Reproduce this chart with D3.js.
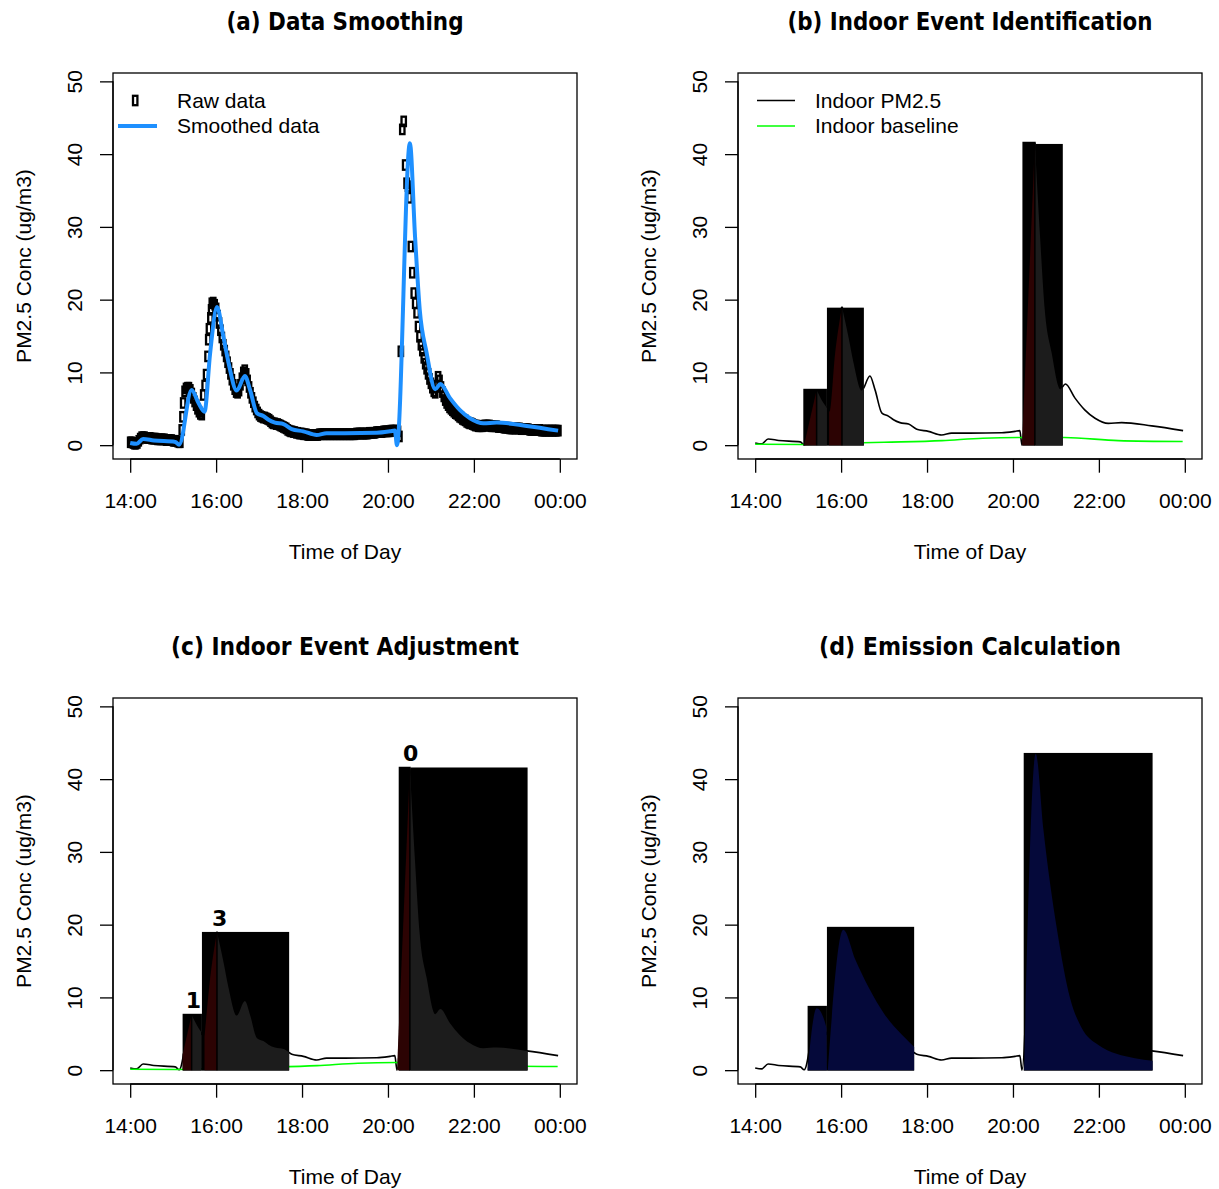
<!DOCTYPE html>
<html>
<head>
<meta charset="utf-8">
<script src="https://cdn.jsdelivr.net/npm/d3@7"></script>
<style>
  body { margin: 0; background: #fff; }
  svg text { font-family: "Liberation Sans", Arial, sans-serif; }
</style>
</head>
<body>
<div id="chart"></div>
<script>
// smoothed indoor PM2.5 (hour of day, ug/m3)
const smoothT = [14.00, 14.15, 14.30, 14.55, 15.05, 15.14, 15.43, 15.59, 15.73, 15.86, 16.02, 16.17, 16.29,
  16.48, 16.67, 16.79, 16.95, 17.10, 17.22, 17.37, 17.57, 17.76, 18.03, 18.34, 18.57, 19.00, 19.74, 20.05,
  20.16, 20.21, 20.51, 20.63, 20.74, 20.90, 21.10, 21.22, 21.44, 21.67, 21.91, 22.22, 22.53, 23.23, 23.96];
const smoothV = [0.30, 0.18, 0.85, 0.65, 0.45, 0.05, 7.6, 5.8, 4.6, 12.6, 19.0, 14.9, 11.3,
  7.5, 9.5, 7.6, 4.4, 4.0, 3.5, 3.1, 2.9, 2.2, 1.9, 1.4, 1.65, 1.65, 1.7, 1.9,
  2.0, 0.0, 41.5, 28.7, 18.6, 12.7, 7.7, 8.4, 6.5, 4.85, 3.7, 3.0, 3.1, 2.65, 2.0];

// raw readings every 2 minutes from 14:00 (ug/m3)
const rawStep = 2;
const rawV = [
  0.4, 0.4, 0.3, 0.2, 0.2, 0.3, 0.6, 0.9, 1.1, 1.1, 1.1, 1.0, 1.0, 1.0, 1.0,
  0.9, 0.9, 0.9, 0.9, 0.8, 0.8, 0.8, 0.8, 0.8, 0.8, 0.7, 0.7, 0.7, 0.7, 0.7,
  0.6, 0.6, 0.6, 0.5, 0.4, 0.4, 2.1, 5.8, 7.4, 7.8, 7.9, 7.9, 7.6, 7.1, 6.5,
  6.0, 5.5, 5.0, 4.6, 4.3, 4.2, 6.9, 8.2, 9.7, 12.2, 16.0, 17.5, 19.5, 19.6, 19.3,
  18.8, 17.8, 16.8, 15.8, 14.8, 13.8, 13.0, 12.2, 11.4, 10.6, 9.8, 9.0, 8.3, 7.7, 7.3,
  7.2, 7.5, 8.3, 9.2, 10.0, 10.3, 9.8, 8.9, 8.0, 7.2, 6.5, 5.9, 5.3, 4.9, 4.5,
  4.2, 4.0, 3.9, 3.8, 3.8, 3.7, 3.6, 3.5, 3.3, 3.1, 3.0, 3.0, 2.9, 2.9, 2.8,
  2.7, 2.6, 2.5, 2.4, 2.3, 2.1, 2.0, 1.9, 1.9, 1.8, 1.8, 1.7, 1.7, 1.6, 1.6,
  1.6, 1.5, 1.5, 1.5, 1.4, 1.4, 1.4, 1.4, 1.4, 1.4, 1.4, 1.4, 1.5, 1.5, 1.5,
  1.5, 1.5, 1.5, 1.5, 1.5, 1.5, 1.5, 1.5, 1.5, 1.5, 1.5, 1.5, 1.5, 1.5, 1.5,
  1.5, 1.5, 1.5, 1.5, 1.5, 1.5, 1.5, 1.5, 1.6, 1.6, 1.6, 1.6, 1.6, 1.6, 1.6,
  1.6, 1.6, 1.7, 1.7, 1.7, 1.7, 1.7, 1.8, 1.8, 1.8, 1.8, 1.8, 1.9, 1.9, 1.9,
  1.9, 1.9, 2.0, 2.0, 2.0, 2.0, 2.0, 1.9, 1.2, 12.9, 43.4, 44.5, 38.5, 36.0, 35.6,
  34.0, 27.3, 23.7, 20.9, 19.5, 18.2, 16.3, 14.9, 13.8, 13.0, 12.0, 11.2, 10.5, 9.8, 9.1,
  8.5, 7.9, 7.4, 7.2, 8.2, 9.4, 8.9, 8.0, 7.3, 6.7, 6.2, 5.8, 5.5, 5.2, 5.0,
  4.8, 4.6, 4.4, 4.3, 4.1, 3.9, 3.8, 3.6, 3.5, 3.4, 3.2, 3.1, 3.0, 3.0, 2.9,
  2.8, 2.7, 2.7, 2.6, 2.6, 2.6, 2.6, 2.7, 2.7, 2.7, 2.7, 2.7, 2.6, 2.6, 2.6,
  2.6, 2.6, 2.5, 2.5, 2.5, 2.5, 2.4, 2.4, 2.4, 2.4, 2.3, 2.3, 2.3, 2.3, 2.3,
  2.3, 2.3, 2.3, 2.2, 2.2, 2.2, 2.2, 2.2, 2.2, 2.1, 2.1, 2.1, 2.1, 2.1, 2.1,
  2.1, 2.1, 2.0, 2.0, 2.0, 2.0, 2.0, 2.0, 2.0, 2.0, 2.0, 2.0, 2.0, 2.0, 2.0];
// a few extra readings on the steep rises (minutes after 14:00)
const rawExtraMin = [73, 109, 113];
const rawExtraV = [3.9, 14.5, 18.6];

// indoor baseline
const baseT = [14.00, 15.10, 16.00, 17.00, 18.35, 19.30, 20.20, 21.20, 22.45, 23.95];
const baseV = [0.13, 0.10, 0.25, 0.40, 0.63, 0.96, 1.05, 1.05, 0.63, 0.50];

// panel (b) identified events
const boxStartB = [15.12, 15.67, 20.22, 20.53];
const boxEndB = [15.67, 16.53, 20.53, 21.16];
const boxTopB = [7.75, 18.9, 41.7, 41.4];
const evStartB = [15.14, 15.72, 20.21];
const evPeakB = [15.43, 16.02, 20.51];
const evEndB = [15.67, 16.53, 21.16];

// panel (c) adjusted events
const boxStartC = [15.22, 15.67, 20.25, 20.53];
const boxEndC = [15.67, 17.70, 20.53, 23.25];
const boxTopC = [7.75, 19.0, 41.7, 41.6];
const evStartC = [15.22, 15.73, 20.22];
const evPeakC = [15.43, 16.02, 20.51];
const evEndC = [15.65, 17.70, 23.25];
const labelTextC = ["1", "3", "0"];
const labelTimeC = [15.47, 16.08, 20.53];
const labelValC = [7.75, 19.0, 41.7];

// panel (d) emission curves
const boxStartD = [15.22, 15.67, 20.25];
const boxEndD = [15.67, 17.70, 23.25];
const boxTopD = [8.84, 19.7, 43.6];
const emitT = [
  [15.22, 15.43, 15.66, 15.67],
  [15.69, 16.05, 16.33, 16.63, 17.02, 17.41, 17.70],
  [20.26, 20.53, 20.71, 21.02, 21.33, 21.60, 21.98, 22.84, 23.25]];
const emitV = [
  [0, 8.5, 5.8, 0],
  [0, 19.3, 15.2, 11.5, 7.6, 4.9, 3.2],
  [0, 43.5, 33.0, 19.5, 9.9, 5.8, 3.5, 1.65, 1.3]];

const xTicks = [14, 16, 18, 20, 22, 24];
const xTickLabels = ["14:00", "16:00", "18:00", "20:00", "22:00", "00:00"];
const yTicks = [0, 10, 20, 30, 40, 50];
const titles = ["(a) Data Smoothing", "(b) Indoor Event Identification", "(c) Indoor Event Adjustment", "(d) Emission Calculation"];
const titleWidths = [237, 365, 348, 302];

const panelOrigin = [[0, 0], [625, 0], [0, 625], [625, 625]];
const plotLeft = 113, plotRight = 577, plotTop = 73, plotBottom = 459;

const redFill = "#2c0303";
const grayFill = "#1c1c1c";
const navyFill = "#05093a";

const x = d3.scaleLinear().domain([13.6, 24.4]).range([plotLeft, plotRight]);
const y = d3.scaleLinear().domain([-1.9, 51.15]).range([plotBottom, plotTop]);

const smooth = smoothT.map((t, i) => ({ t: t, v: smoothV[i] }));
const base = baseT.map((t, i) => ({ t: t, v: baseV[i] }));
const raw = rawV.map((v, i) => ({ t: 14 + i * rawStep / 60, v: v }))
  .concat(rawExtraMin.map((m, i) => ({ t: 14 + m / 60, v: rawExtraV[i] })));

const line = d3.line().x(d => x(d.t)).y(d => y(d.v)).curve(d3.curveMonotoneX);
const area = d3.area().x(d => x(d.t)).y0(y(0)).y1(d => y(d.v)).curve(d3.curveMonotoneX);

const svg = d3.select("#chart").append("svg")
  .attr("width", 1219)
  .attr("height", 1189);

// value of the smoothed curve at time t (linear between readings)
function curveAt(t) {
  const i = d3.bisector(d => d.t).left(smooth, t);
  if (i <= 0) return smooth[0].v;
  if (i >= smooth.length) return smooth[smooth.length - 1].v;
  const a = smooth[i - 1], b = smooth[i];
  return a.v + (b.v - a.v) * (t - a.t) / (b.t - a.t);
}

function curveSlice(t0, t1) {
  const pts = [{ t: t0, v: curveAt(t0) }];
  smooth.forEach(d => { if (d.t > t0 + 0.005 && d.t < t1 - 0.005) pts.push(d); });
  pts.push({ t: t1, v: curveAt(t1) });
  return pts;
}

function drawFrame(g, k) {
  g.append("rect")
    .attr("x", plotLeft).attr("y", plotTop)
    .attr("width", plotRight - plotLeft).attr("height", plotBottom - plotTop)
    .attr("fill", "none").attr("stroke", "black").attr("stroke-width", 1.3);

  const xAxis = g.append("g").attr("transform", `translate(0,${plotBottom})`)
    .call(d3.axisBottom(x).tickValues(xTicks).tickSize(13.7).tickFormat((d, i) => xTickLabels[i]));
  xAxis.select(".domain").remove();
  xAxis.append("line").attr("x1", x(14)).attr("x2", x(24)).attr("stroke", "black").attr("stroke-width", 1.3);
  xAxis.selectAll(".tick line").attr("stroke-width", 1.3);
  xAxis.selectAll(".tick text")
    .attr("y", 48.5).attr("dy", 0)
    .attr("font-size", "21px").attr("fill", "black");

  const yAxis = g.append("g").attr("transform", `translate(${plotLeft},0)`)
    .call(d3.axisLeft(y).tickValues(yTicks).tickSize(13));
  yAxis.select(".domain").remove();
  yAxis.append("line").attr("y1", y(0)).attr("y2", y(50)).attr("stroke", "black").attr("stroke-width", 1.3);
  yAxis.selectAll(".tick line").attr("stroke-width", 1.3);
  yAxis.selectAll(".tick text")
    .attr("transform", "rotate(-90)")
    .attr("x", 0).attr("y", -31.5).attr("dy", 0)
    .attr("text-anchor", "middle")
    .attr("font-size", "21px").attr("fill", "black");

  g.append("text")
    .attr("x", (plotLeft + plotRight) / 2).attr("y", 30)
    .attr("text-anchor", "middle")
    .style("font-family", "'DejaVu Sans', sans-serif")
    .attr("font-weight", "bold")
    .attr("font-size", "24px")
    .attr("textLength", titleWidths[k])
    .attr("lengthAdjust", "spacingAndGlyphs")
    .text(titles[k]);

  g.append("text")
    .attr("x", (plotLeft + plotRight) / 2).attr("y", 559)
    .attr("text-anchor", "middle")
    .attr("font-size", "21px")
    .text("Time of Day");

  g.append("text")
    .attr("transform", `translate(31,${(plotTop + plotBottom) / 2}) rotate(-90)`)
    .attr("text-anchor", "middle")
    .attr("font-size", "21px")
    .text("PM2.5 Conc (ug/m3)");
}

function drawBoxes(g, starts, ends, tops) {
  g.selectAll("rect.evbox")
    .data(starts.map((s, i) => ({ s: s, e: ends[i], top: tops[i] })))
    .enter().append("rect")
    .attr("class", "evbox")
    .attr("x", d => x(d.s))
    .attr("y", d => y(d.top))
    .attr("width", d => x(d.e) - x(d.s))
    .attr("height", d => y(0) - y(d.top) + 0.5)
    .attr("fill", "black");
}

function drawShading(g, starts, peaks, ends) {
  starts.forEach((s, i) => {
    g.append("path").attr("d", area(curveSlice(s, peaks[i]))).attr("fill", redFill);
    g.append("path").attr("d", area(curveSlice(peaks[i], ends[i]))).attr("fill", grayFill);
    g.append("line")
      .attr("x1", x(peaks[i])).attr("x2", x(peaks[i]))
      .attr("y1", y(0)).attr("y2", y(curveAt(peaks[i])))
      .attr("stroke", "black").attr("stroke-width", 1.5);
  });
}

function drawLegend(g, items) {
  items.forEach((it, i) => {
    const ly = 100.5 + i * 25.5;
    if (it.kind === "rect") {
      g.append("rect").attr("x", 133).attr("y", ly - 4.7).attr("width", 4.4).attr("height", 9.4)
        .attr("fill", "none").attr("stroke", "black").attr("stroke-width", 2.3);
    } else {
      g.append("line").attr("x1", it.x0).attr("x2", it.x1).attr("y1", ly).attr("y2", ly)
        .attr("stroke", it.color).attr("stroke-width", it.width);
    }
    g.append("text").attr("x", it.tx).attr("y", ly + 7.3)
      .attr("font-size", "21px").text(it.label);
  });
}

const panels = panelOrigin.map((o, k) => {
  const g = svg.append("g").attr("transform", `translate(${o[0]},${o[1]})`);
  drawFrame(g, k);
  return g;
});

// (a) raw + smoothed
const pa = panels[0];
pa.append("g").selectAll("rect")
  .data(raw)
  .enter().append("rect")
  .attr("x", d => x(d.t) - 2.2)
  .attr("y", d => y(d.v) - 4.7)
  .attr("width", 4.4).attr("height", 9.4)
  .attr("fill", "none").attr("stroke", "black").attr("stroke-width", 2.3);
pa.append("path").attr("d", line(smooth))
  .attr("fill", "none").attr("stroke", "#1E90FF").attr("stroke-width", 4).attr("stroke-linejoin", "round");
drawLegend(pa, [
  { kind: "rect", label: "Raw data", tx: 177 },
  { kind: "line", x0: 118, x1: 157, color: "#1E90FF", width: 4, label: "Smoothed data", tx: 177 }]);

// (b) identification
const pb = panels[1];
pb.append("path").attr("d", line(smooth)).attr("fill", "none").attr("stroke", "black").attr("stroke-width", 1.6);
pb.append("path").attr("d", line(base)).attr("fill", "none").attr("stroke", "#00FF00").attr("stroke-width", 1.6);
drawBoxes(pb, boxStartB, boxEndB, boxTopB);
drawShading(pb, evStartB, evPeakB, evEndB);
drawLegend(pb, [
  { kind: "line", x0: 132, x1: 170, color: "black", width: 1.6, label: "Indoor PM2.5", tx: 190 },
  { kind: "line", x0: 132, x1: 170, color: "#00FF00", width: 1.6, label: "Indoor baseline", tx: 190 }]);

// (c) adjustment
const pc = panels[2];
pc.append("path").attr("d", line(smooth)).attr("fill", "none").attr("stroke", "black").attr("stroke-width", 1.6);
pc.append("path").attr("d", line(base)).attr("fill", "none").attr("stroke", "#00FF00").attr("stroke-width", 1.6);
drawBoxes(pc, boxStartC, boxEndC, boxTopC);
drawShading(pc, evStartC, evPeakC, evEndC);
pc.selectAll("text.evlabel")
  .data(labelTextC)
  .enter().append("text")
  .attr("class", "evlabel")
  .attr("x", (d, i) => x(labelTimeC[i]))
  .attr("y", (d, i) => y(labelValC[i]) - 6)
  .attr("text-anchor", "middle")
  .style("font-family", "'DejaVu Sans', sans-serif")
  .attr("font-weight", "bold")
  .attr("font-size", "22px")
  .text(d => d);

// (d) emission
const pd = panels[3];
pd.append("path").attr("d", line(smooth)).attr("fill", "none").attr("stroke", "black").attr("stroke-width", 1.6);
drawBoxes(pd, boxStartD, boxEndD, boxTopD);
emitT.forEach((ts, i) => {
  const pts = ts.map((t, j) => ({ t: t, v: emitV[i][j] }));
  pd.append("path").attr("d", area(pts)).attr("fill", navyFill);
});
</script>
</body>
</html>
